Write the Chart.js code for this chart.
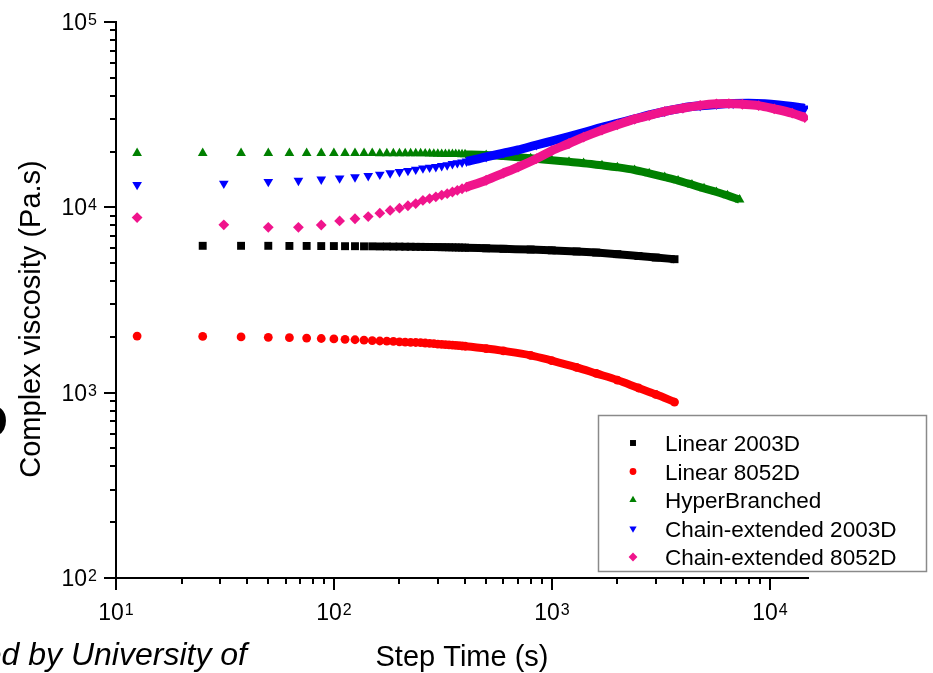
<!DOCTYPE html>
<html>
<head>
<meta charset="utf-8">
<title>Complex viscosity vs step time</title>
<script src="https://cdn.jsdelivr.net/npm/chart.js@4.4.0/dist/chart.umd.min.js"></script>
<style>
  html, body { margin: 0; padding: 0; background: #fff; }
  canvas { display: block; }
</style>
</head>
<body>
<canvas id="viscosityChart" width="933" height="673"></canvas>
<script>
// time sweep: step time (s) vs complex viscosity (Pa.s)
const blackTime = [25, 37.5, 50, 62.5, 75, 87.5, 100, 112.5, 125, 137.5, 150, 162.5, 175, 187.5, 200, 212.5, 225, 237.5, 250,
    262.5, 275, 287.5, 300, 312.5, 325, 337.5, 350, 362.5, 375, 387.5, 400,
    500, 600, 800, 1000, 1300, 1600, 2000, 2500, 3000, 3660];
const blackVisc = [6200, 6200, 6200, 6190, 6190, 6180, 6180, 6170, 6170, 6160, 6160, 6150, 6150, 6140, 6140, 6130, 6130, 6120, 6120,
    6115, 6110, 6105, 6100, 6095, 6090, 6085, 6080, 6075, 6070, 6065, 6060,
    6010, 5970, 5920, 5860, 5780, 5700, 5590, 5460, 5360, 5250];

const redTime = [12.5, 25, 37.5, 50, 62.5, 75, 87.5, 100, 112.5, 125, 137.5, 150, 162.5, 175, 187.5, 200, 212.5, 225, 237.5, 250,
    262.5, 275, 287.5, 300, 312.5, 325, 337.5, 350, 362.5, 375, 387.5, 400,
    500, 600, 800, 1000, 1300, 1600, 2000, 2500, 3000, 3660];
const redVisc = [2020, 2010, 2000, 1990, 1980, 1970, 1960, 1950, 1940, 1930, 1920, 1910, 1900, 1895, 1890, 1880, 1875, 1870, 1865, 1860,
    1853, 1846, 1838, 1830, 1824, 1818, 1812, 1806, 1799, 1793, 1786, 1780,
    1730, 1680, 1590, 1490, 1370, 1270, 1170, 1060, 980, 890];

const greenTime = [12.5, 25, 37.5, 50, 62.5, 75, 87.5, 100, 112.5, 125, 137.5, 150, 162.5, 175, 187.5, 200, 212.5, 225, 237.5, 250,
    262.5, 275, 287.5, 300, 312.5, 325, 337.5, 350, 362.5, 375, 387.5, 400,
    500, 600, 700, 800, 1000, 1200, 1400, 1700, 2000, 2400, 2800, 3300, 3800, 4400, 5000, 5700, 6400, 7280];
const greenVisc = [19600, 19600, 19600, 19600, 19600, 19600, 19600, 19600, 19600, 19600, 19600, 19600, 19550, 19550, 19550, 19550, 19550, 19550, 19550, 19550,
    19520, 19490, 19450, 19420, 19400, 19380, 19370, 19360, 19350, 19330, 19320, 19300,
    19150, 18900, 18650, 18400, 17950, 17600, 17300, 16850, 16450, 15900, 15250, 14550, 13950, 13250, 12650, 12100, 11600, 11000];

const blueTime = [12.5, 31.25, 50, 68.75, 87.5, 106.25, 125, 143.75, 162.5, 181.25, 200, 218.75, 237.5, 256.25,
    275, 293.75, 312.5, 331.25, 350, 368.75, 387.5, 406.25,
    500, 600, 700, 850, 1000, 1200, 1400, 1700, 2000, 2400, 2800, 3300, 4000, 4800, 5700, 6800, 8000, 9500, 11000, 12700, 14500];
const blueVisc = [13250, 13450, 13750, 13950, 14150, 14350, 14550, 14800, 15050, 15300, 15550, 15750, 16000, 16250,
    16400, 16550, 16750, 16900, 17150, 17350, 17500, 17700,
    18700, 19600, 20400, 21700, 22800, 24100, 25300, 27000, 28400, 30000, 31500, 32900, 34400, 35300, 35900, 36300, 36400, 36200, 35700, 35000, 34200];

const pinkTime = [12.5, 31.25, 50, 68.75, 87.5, 106.25, 125, 143.75, 162.5, 181.25, 200, 218.75, 237.5, 256.25,
    275, 293.75, 312.5, 331.25, 350, 368.75, 387.5, 406.25,
    500, 600, 700, 850, 1000, 1200, 1400, 1700, 2000, 2400, 2800, 3300, 4000, 4800, 5700, 6500, 7500, 8900, 10500, 12700, 14500];
const pinkVisc = [8800, 8050, 7800, 7800, 8030, 8450, 8680, 8920, 9300, 9620, 9900, 10200, 10480, 10900,
    11150, 11400, 11650, 11850, 12100, 12350, 12600, 12850,
    14000, 15300, 16500, 18300, 20200, 22100, 23900, 26100, 27900, 29900, 31300, 32900, 34300, 35500, 36200, 36300, 36000, 35400, 34000, 32200, 30500];

const seriesNames = ['Linear 2003D', 'Linear 8052D', 'HyperBranched', 'Chain-extended 2003D', 'Chain-extended 8052D'];

const FONT = "'Liberation Sans', Arial, Helvetica, sans-serif";
const bandFrom = 400; // past this the markers overlap into a solid band

function toPoints(times, values) {
    return times.map((t, i) => ({x: t, y: values[i]}));
}

function makeSeries(label, times, values, color, style, radius, rotation, bandWidth, order) {
    return {
        label: label,
        data: toPoints(times, values),
        showLine: true,
        borderColor: color,
        backgroundColor: color,
        borderWidth: bandWidth,
        cubicInterpolationMode: 'monotone',
        pointStyle: style,
        pointRadius: radius,
        pointRotation: rotation,
        pointBorderWidth: 0,
        pointBackgroundColor: color,
        pointHoverRadius: radius,
        order: order,
        // hide the connecting line while the markers are still apart
        segment: {
            borderColor: c => c.p0.parsed.x < bandFrom ? 'rgba(0,0,0,0)' : undefined
        }
    };
}

// "10" with a raised exponent
function drawPower(ctx, exp, x, y, align) {
    ctx.font = `23px ${FONT}`;
    const baseW = ctx.measureText('10').width;
    ctx.font = `16px ${FONT}`;
    const expW = ctx.measureText(String(exp)).width;
    const total = baseW + expW + 1;
    const left = align === 'right' ? x - total : x - total / 2;
    ctx.textAlign = 'left';
    ctx.textBaseline = 'alphabetic';
    ctx.font = `23px ${FONT}`;
    ctx.fillText('10', left, y + 8);
    ctx.font = `16px ${FONT}`;
    ctx.fillText(String(exp), left + baseW + 1, y + 3);
}

function decadeInfo(v) {
    const e = Math.floor(Math.log10(v) + 1e-9);
    const m = v / Math.pow(10, e);
    return {e: e, m: m, whole: Math.abs(m - Math.round(m)) < 1e-6, major: Math.abs(m - 1) < 1e-6};
}

// tick marks and tick labels for both log axes
const axisTicks = {
    id: 'axisTicks',
    afterDraw(chart) {
        const {ctx, chartArea} = chart;
        const xs = chart.scales.x, ys = chart.scales.y;
        ctx.save();
        ctx.strokeStyle = '#000';
        ctx.fillStyle = '#000';
        ctx.lineWidth = 2;
        ys.ticks.forEach(t => {
            const d = decadeInfo(t.value);
            if (!d.whole || t.value > ys.max || t.value < ys.min) return;
            const py = Math.round(ys.getPixelForValue(t.value));
            ctx.beginPath();
            ctx.moveTo(chartArea.left, py);
            ctx.lineTo(chartArea.left - (d.major ? 12 : 6), py);
            ctx.stroke();
            if (d.major) drawPower(ctx, d.e, 97, py, 'right');
        });
        xs.ticks.forEach(t => {
            const d = decadeInfo(t.value);
            if (!d.whole || t.value > xs.max || t.value < xs.min) return;
            const px = Math.round(xs.getPixelForValue(t.value));
            ctx.beginPath();
            ctx.moveTo(px, chartArea.bottom);
            ctx.lineTo(px, chartArea.bottom + (d.major ? 12 : 6));
            ctx.stroke();
            if (d.major) drawPower(ctx, d.e, px, 612, 'center');
        });
        ctx.restore();
    }
};

// axis titles, legend box and the stray page text around the figure
const figureText = {
    id: 'figureText',
    afterDraw(chart) {
        const ctx = chart.ctx;
        ctx.save();
        ctx.fillStyle = '#000';

        ctx.font = `29px ${FONT}`;
        ctx.textAlign = 'center';
        ctx.textBaseline = 'alphabetic';
        ctx.fillText('Step Time (s)', 462, 666);

        ctx.save();
        ctx.translate(40, 319);
        ctx.rotate(-Math.PI / 2);
        ctx.fillText('Complex viscosity (Pa.s)', 0, 0);
        ctx.restore();

        ctx.font = `italic 32px ${FONT}`;
        ctx.textAlign = 'right';
        ctx.fillText('Downloaded by University of', 247, 665);

        ctx.font = `bold 47px ${FONT}`;
        ctx.fillText('D', 8, 437);

        // legend
        ctx.fillStyle = '#fff';
        ctx.fillRect(598, 415, 329, 157);
        ctx.strokeStyle = '#8a8a8a';
        ctx.lineWidth = 1.5;
        ctx.strokeRect(598.5, 415.5, 328, 156);
        const legendRadius = {rect: 4.2, circle: 3.4, triangle: 4.2, rectRot: 4.4};
        chart.data.datasets.forEach((ds, i) => {
            const rowY = 443 + i * 28.5;
            ctx.fillStyle = ds.backgroundColor;
            Chart.helpers.drawPoint(ctx, {
                pointStyle: ds.pointStyle,
                radius: legendRadius[ds.pointStyle],
                rotation: ds.pointRotation || 0,
                borderWidth: 0
            }, 633, rowY);
            ctx.fillStyle = '#000';
            ctx.font = `22.5px ${FONT}`;
            ctx.textAlign = 'left';
            ctx.textBaseline = 'alphabetic';
            ctx.fillText(ds.label, 665, rowY + 8);
        });
        ctx.restore();
    }
};

const hideAxisBox = scale => {
    if (scale.isHorizontal()) scale.height = 0; else scale.width = 0;
};

const viscosityChart = new Chart(document.getElementById('viscosityChart'), {
    type: 'scatter',
    data: {
        datasets: [
            makeSeries(seriesNames[0], blackTime, blackVisc, '#000000', 'rect', 5.6, 0, 8, 5),
            makeSeries(seriesNames[1], redTime, redVisc, '#ff0000', 'circle', 4.4, 0, 8, 4),
            makeSeries(seriesNames[2], greenTime, greenVisc, '#008000', 'triangle', 5.6, 0, 8, 3),
            makeSeries(seriesNames[3], blueTime, blueVisc, '#0000ff', 'triangle', 5.6, 180, 9, 2),
            makeSeries(seriesNames[4], pinkTime, pinkVisc, '#f0148c', 'rectRot', 5.4, 0, 9, 1)
        ]
    },
    options: {
        responsive: false,
        animation: false,
        events: [],
        layout: {
            autoPadding: false,
            padding: {left: 116, right: 125, top: 22, bottom: 95}
        },
        scales: {
            x: {
                type: 'logarithmic',
                min: 10,
                max: 15000,
                grid: {display: false, drawTicks: false},
                ticks: {display: false, autoSkip: false},
                border: {display: true, color: '#000', width: 2},
                afterFit: hideAxisBox
            },
            y: {
                type: 'logarithmic',
                min: 100,
                max: 100000,
                grid: {display: false, drawTicks: false},
                ticks: {display: false, autoSkip: false},
                border: {display: true, color: '#000', width: 2},
                afterFit: hideAxisBox
            }
        },
        plugins: {
            legend: {display: false},
            tooltip: {enabled: false}
        }
    },
    plugins: [axisTicks, figureText]
});
</script>
</body>
</html>
